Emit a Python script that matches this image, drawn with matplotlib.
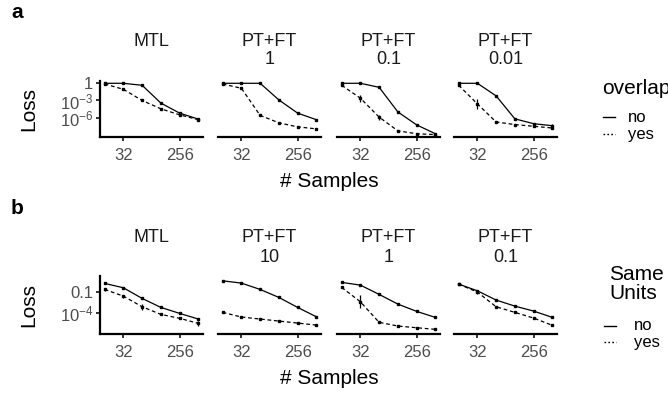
import numpy as np
import matplotlib
matplotlib.use("Agg")
import matplotlib.pyplot as plt
from matplotlib.lines import Line2D

plt.rcParams["font.family"] = ["Liberation Sans", "DejaVu Sans"]
plt.rcParams["mathtext.default"] = "regular"

W, H = 668, 396

samples = [16, 32, 64, 128, 256, 512]

# strip labels
a_method = ["MTL", "PT+FT", "PT+FT", "PT+FT"]
a_weight = ["", "1", "0.1", "0.01"]
b_method = ["MTL", "PT+FT", "PT+FT", "PT+FT"]
b_weight = ["", "10", "1", "0.1"]

# log10(loss), one row per facet
a_no = [
    [0, 0, -0.35, -3.45, -5.2, -6.25],
    [0, 0, 0, -2.9, -5.2, -6.35],
    [0, 0, -0.7, -5.0, -7.25, -8.8],
    [0, 0, -2.2, -6.2, -7.05, -7.4],
]
a_yes = [
    [-0.12, -1.05, -3.0, -4.45, -5.5, -6.35],
    [-0.12, -0.87, -5.6, -6.9, -7.6, -7.95],
    [-0.35, -2.6, -5.9, -8.3, -8.8, -8.95],
    [-0.35, -3.6, -6.75, -7.2, -7.5, -7.8],
]
# error bar half widths, in decades
a_no_err = [
    [0, 0, 0, 0, 0, 0],
    [0, 0, 0, 0, 0, 0],
    [0, 0, 0, 0, 0, 0.1],
    [0, 0, 0.1, 0, 0, 0.25],
]
a_yes_err = [
    [0, 0, 0, 0, 0.15, 0],
    [0, 0.1, 0, 0, 0, 0],
    [0, 0.6, 0.45, 0, 0, 0],
    [0, 0.87, 0, 0, 0, 0.25],
]

b_no = [
    [0.17, -0.44, -1.92, -3.17, -4.0, -4.79],
    [0.53, 0.21, -0.67, -1.78, -3.17, -4.47],
    [0.31, -0.07, -1.36, -2.71, -3.72, -4.56],
    [0.07, -0.86, -2.15, -2.99, -3.68, -4.56],
]
b_yes = [
    [-0.67, -1.6, -3.08, -4.14, -4.69, -5.39],
    [-3.86, -4.51, -4.79, -5.07, -5.35, -5.63],
    [-0.39, -2.39, -5.25, -5.76, -6.0, -6.22],
    [0.07, -1.04, -3.08, -3.86, -4.65, -5.67],
]
b_no_err = [[0] * 6 for _ in range(4)]
b_yes_err = [
    [0.2, 0.2, 0.4, 0, 0, 0.3],
    [0.15, 0, 0, 0, 0, 0],
    [0, 0.93, 0.15, 0, 0, 0],
    [0, 0.2, 0.1, 0, 0.15, 0],
]

a_yticks = [1, 1e-3, 1e-6]
a_yticklabels = ["1", "$10^{-3}$", "$10^{-6}$"]
b_yticks = [0.1, 1e-4]
b_yticklabels = ["0.1", "$10^{-4}$"]

panel_left = [100, 218, 337, 454]
panel_w = 103


def fx(px):
    return px / W


def fy(py):
    return 1 - py / H


def draw_series(ax, logy, err, ls):
    y = 10.0 ** np.array(logy)
    ax.plot(samples, y, color="black", lw=0.9, ls=ls,
            marker="s", ms=2.0, mec="black", mfc="black")
    e = np.array(err)
    m = e > 0
    if m.any():
        ax.vlines(np.array(samples)[m], y[m] / 10 ** e[m], y[m] * 10 ** e[m],
                  color="black", lw=0.9)


def draw_row(fig, top, bottom, no, yes, no_err, yes_err, ylim,
             yticks, yticklabels, method, weight, strip_y, tag, tag_y,
             xlab_y, leg_title, leg_title_y, leg_x, leg_rows_y):
    for i in range(4):
        ax = fig.add_axes([fx(panel_left[i]), fy(bottom), fx(panel_w),
                           (bottom - top) / H])
        ax.patch.set_alpha(0)
        draw_series(ax, no[i], no_err[i], "-")
        draw_series(ax, yes[i], yes_err[i], (0, (3.0, 2.2)))
        ax.set_xscale("log", base=2)
        ax.set_yscale("log")
        ax.set_xlim(2 ** 3.75, 2 ** 9.25)
        ax.set_ylim(10 ** ylim[0], 10 ** ylim[1])
        ax.minorticks_off()
        ax.set_xticks([32, 256])
        ax.set_xticklabels(["32", "256"])
        for s in ["top", "right"]:
            ax.spines[s].set_visible(False)
        ax.spines["bottom"].set_linewidth(1.6)
        ax.spines["left"].set_linewidth(1.6)
        ax.tick_params(axis="both", length=3.2, width=1.4, color="#333333",
                       labelsize=12, labelcolor="#4D4D4D", pad=5)
        if i == 0:
            ax.set_yticks(yticks)
            ax.set_yticklabels(yticklabels)
            ax.tick_params(axis="y", pad=1.5)
        else:
            ax.spines["left"].set_visible(False)
            ax.set_yticks([])
        cx = fx(panel_left[i] + panel_w / 2)
        fig.text(cx, fy(strip_y[0]), method[i], ha="center", va="center",
                 fontsize=13, color="#1A1A1A")
        if weight[i]:
            fig.text(cx, fy(strip_y[1]), weight[i], ha="center", va="center",
                     fontsize=13, color="#1A1A1A")

    fig.text(fx(29), fy((top + bottom) / 2), "Loss", rotation=90,
             ha="center", va="center", fontsize=15)
    fig.text(fx(329), fy(xlab_y), "# Samples", ha="center", va="center",
             fontsize=15)
    fig.text(fx(11), fy(tag_y), tag, ha="left", va="center",
             fontsize=15, fontweight="bold")

    # legend
    fig.text(fx(leg_x[0]), fy(leg_title_y), leg_title, ha="left",
             va="center", fontsize=15, linespacing=1.0)
    for ly, lab, ls in zip(leg_rows_y, ["no", "yes"], ["-", (0, (1.2, 1.6))]):
        fig.add_artist(Line2D([fx(leg_x[1]), fx(leg_x[1] + 12)],
                              [fy(ly), fy(ly)], color="black", lw=1.0,
                              ls=ls, transform=fig.transFigure))
        fig.text(fx(leg_x[2]), fy(ly), lab, ha="left", va="center",
                 fontsize=12)


fig = plt.figure(figsize=(W / 100, H / 100), dpi=100)

draw_row(fig, 81, 137, a_no, a_yes, a_no_err, a_yes_err, (-9.37, 0.4),
         a_yticks, a_yticklabels, a_method, a_weight, (41, 60), "a", 12,
         182, "overlap", 89, (602, 603, 628), (117, 134))
draw_row(fig, 276, 334, b_no, b_yes, b_no_err, b_yes_err, (-6.87, 1.2),
         b_yticks, b_yticklabels, b_method, b_weight, (238, 257), "b", 209,
         378, "Same\nUnits", 284, (609, 604, 634), (326, 342))

fig.savefig("out.png", dpi=100)
